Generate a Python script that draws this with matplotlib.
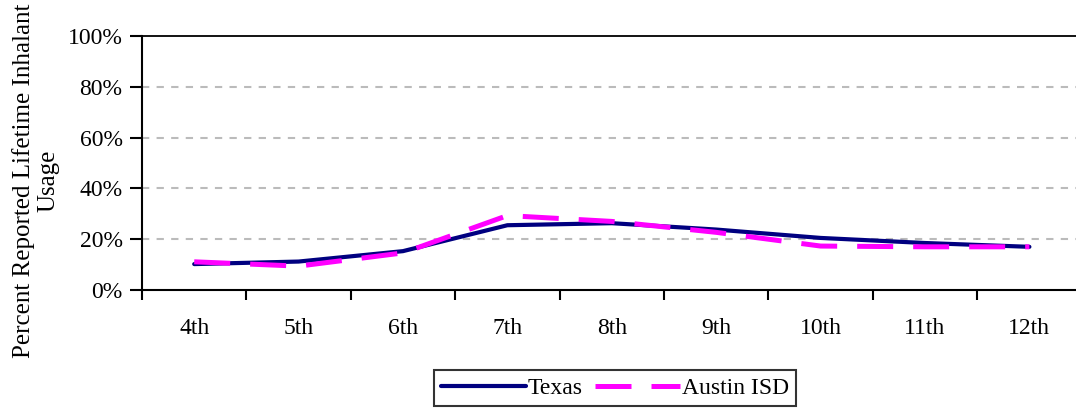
import matplotlib
matplotlib.use("Agg")
import matplotlib.pyplot as plt
from matplotlib.lines import Line2D
import numpy as np

grades = ["4th", "5th", "6th", "7th", "8th", "9th", "10th", "11th", "12th"]
texas = [10.2, 11.2, 15.3, 25.5, 26.3, 23.8, 20.5, 18.5, 17.0]
austin = [11.1, 9.4, 14.6, 29.3, 27.0, 22.7, 17.3, 17.0, 17.0]
ytick_labels = ["0%", "20%", "40%", "60%", "80%", "100%"]

plt.rcParams["font.family"] = ["Liberation Serif", "DejaVu Serif"]
plt.rcParams["font.size"] = 17

W, H = 1076, 412
fig = plt.figure(figsize=(W / 100, H / 100), dpi=100)
ax = fig.add_axes([142 / W, 1 - 290 / H, 939.6 / W, 254 / H])

x = np.arange(len(grades))
navy = "#000080"
magenta = "#FF00FF"
dash = (0, (7.2, 4.0))

ax.plot(x, texas, color=navy, lw=3.0, solid_capstyle="round",
        solid_joinstyle="miter", zorder=3)
ax.plot(x, austin, color=magenta, lw=3.6, linestyle=dash,
        dash_capstyle="butt", zorder=4)

ax.set_xlim(-0.5, len(grades) - 0.5)
ax.set_ylim(0, 100)

ax.set_yticks([0, 20, 40, 60, 80, 100])
ax.set_yticklabels(ytick_labels)
for yv in [20, 40, 60, 80]:
    ax.axhline(yv, color="#BBBBBB", lw=1.5, linestyle=(0, (3.5, 3.5)), zorder=1)

ax.set_xticks(x)
ax.set_xticklabels(grades)
ax.set_xticks(np.arange(len(grades) + 1) - 0.5, minor=True)
ax.tick_params(axis="x", which="major", length=0, pad=20)
ax.tick_params(axis="x", which="minor", length=7, width=1.5, direction="out", color="black")
ax.tick_params(axis="y", which="major", length=9, width=1.5, direction="out", pad=5)

ax.spines["right"].set_visible(False)
ax.spines["top"].set_linewidth(1.3)
for side in ["left", "bottom"]:
    ax.spines[side].set_linewidth(1.5)

fig.text(36 / W, 1 - 181 / H, "Percent Reported Lifetime Inhalant\nUsage",
         rotation=90, ha="center", va="center", multialignment="center",
         fontsize=18, linespacing=1.15)

handles = [
    Line2D([], [], color=navy, lw=3.0, solid_capstyle="round"),
    Line2D([], [], color=magenta, lw=3.6, linestyle=dash),
]
leg = fig.legend(handles, ["Texas", "Austin ISD"], loc="center",
                 bbox_to_anchor=(615 / W, 1 - 388 / H), ncol=2,
                 handlelength=3.6, handletextpad=0.1, columnspacing=0.5,
                 borderpad=0.3, frameon=True, fancybox=False, fontsize=17)
leg.get_frame().set_edgecolor("black")
leg.get_frame().set_linewidth(1.5)

fig.savefig("out.png", dpi=100)
